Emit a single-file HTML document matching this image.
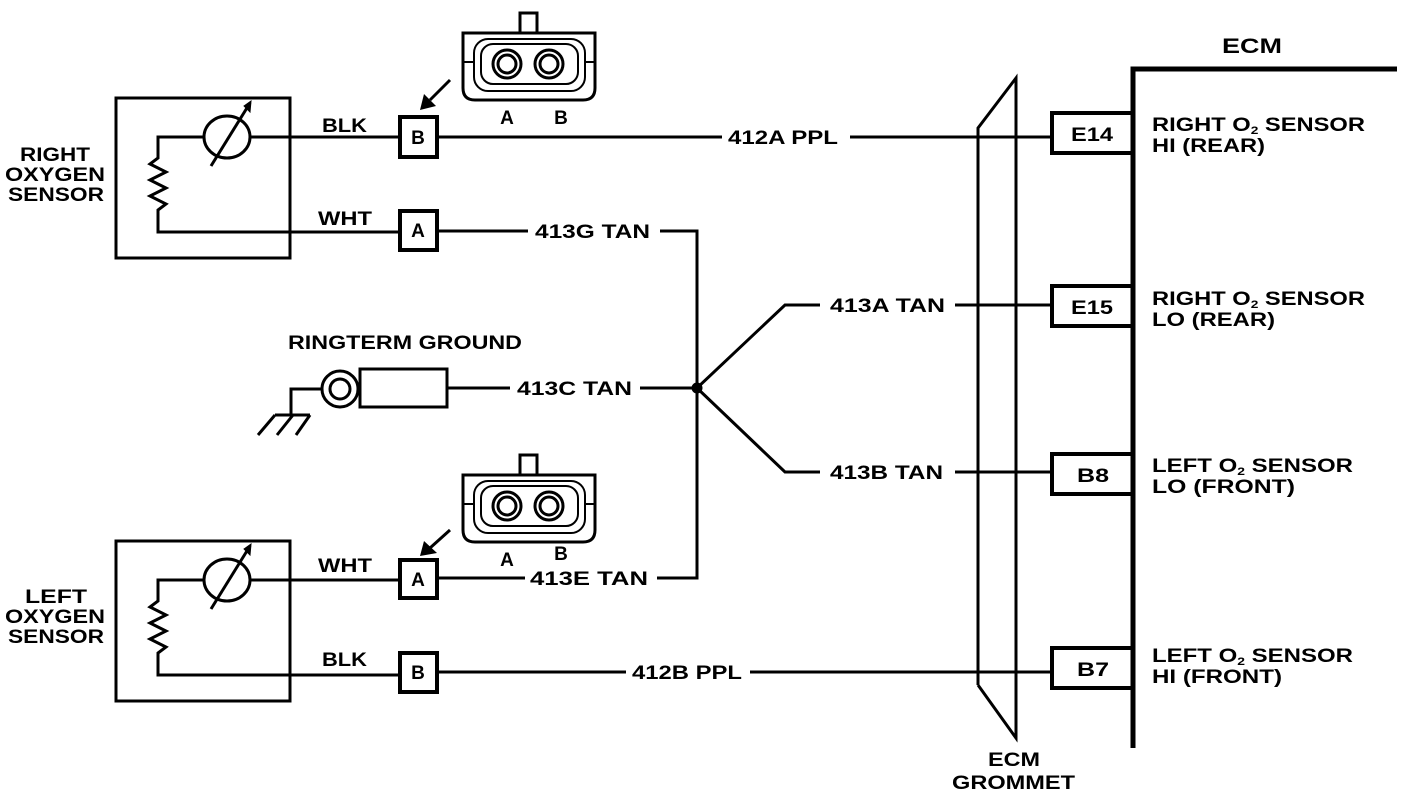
<!DOCTYPE html>
<html><head><meta charset="utf-8"><style>
html,body{margin:0;padding:0;background:#fff;}
svg{display:block;}
text{font-family:"Liberation Sans",Arial,sans-serif;font-weight:bold;font-size:19px;fill:#000;}
</style></head><body>
<svg width="1408" height="796" viewBox="0 0 1408 796" xmlns="http://www.w3.org/2000/svg">
<defs>
<g id="conn">
  <path d="M463,33 H595 V88 Q595,100 583,100 H475 Q463,100 463,88 Z" fill="none" stroke="#000" stroke-width="3"/>
  <rect x="474" y="39" width="111" height="52" rx="14" fill="none" stroke="#000" stroke-width="2"/>
  <rect x="481" y="44" width="97" height="40" rx="12" fill="none" stroke="#000" stroke-width="2"/>
  <rect x="520" y="13" width="17" height="20" fill="#fff" stroke="#000" stroke-width="3"/>
  <line x1="463" y1="62" x2="474" y2="62" stroke="#000" stroke-width="2"/>
  <line x1="585" y1="62" x2="595" y2="62" stroke="#000" stroke-width="2"/>
  <circle cx="507" cy="64" r="14" fill="none" stroke="#000" stroke-width="3"/>
  <circle cx="507" cy="64" r="9" fill="none" stroke="#000" stroke-width="3"/>
  <circle cx="549" cy="64" r="14" fill="none" stroke="#000" stroke-width="3"/>
  <circle cx="549" cy="64" r="9" fill="none" stroke="#000" stroke-width="3"/>
</g>
<g id="sensor">
  <rect x="116" y="98" width="174" height="160" fill="none" stroke="#000" stroke-width="3"/>
  <ellipse cx="227" cy="137" rx="23" ry="21" fill="none" stroke="#000" stroke-width="3"/>
  <line x1="211" y1="166" x2="250" y2="103" stroke="#000" stroke-width="3"/>
  <path d="M244,106 L251,101 L250,112 Z" fill="#000"/>
  <polyline points="204,137 158,137 158,158 150,164 166,172 150,180 166,188 150,196 166,204 158,210 158,232 400,232" fill="none" stroke="#000" stroke-width="3"/>
  <line x1="250" y1="137" x2="400" y2="137" stroke="#000" stroke-width="3"/>
</g>
</defs>

<g stroke="#000" fill="none">
<use href="#sensor"/>
<use href="#conn"/>
<rect x="400" y="117" width="37" height="40" stroke-width="4"/>
<rect x="400" y="211" width="37" height="39" stroke-width="4"/>
<line x1="450" y1="80" x2="430" y2="100" stroke-width="3"/>
<path d="M420,110 L424,94 L436,106 Z" fill="#000" stroke="none"/>
<g transform="translate(0,443)"><use href="#sensor"/></g>
<g transform="translate(0,442)"><use href="#conn"/></g>
<rect x="400" y="560" width="37" height="38" stroke-width="4"/>
<rect x="400" y="653" width="37" height="39" stroke-width="4"/>
<line x1="450" y1="530" x2="430" y2="548" stroke-width="3"/>
<path d="M420,556 L424,541 L437,553 Z" fill="#000" stroke="none"/>

<line x1="437" y1="137" x2="722" y2="137" stroke-width="3"/>
<line x1="850" y1="137" x2="1052" y2="137" stroke-width="3"/>
<line x1="437" y1="231" x2="528" y2="231" stroke-width="3"/>
<polyline points="660,231 697,231 697,578 657,578" stroke-width="3"/>
<line x1="437" y1="578" x2="525" y2="578" stroke-width="3"/>
<line x1="437" y1="672" x2="626" y2="672" stroke-width="3"/>
<line x1="750" y1="672" x2="1052" y2="672" stroke-width="3"/>
<line x1="447" y1="388" x2="510" y2="388" stroke-width="3"/>
<line x1="640" y1="388" x2="697" y2="388" stroke-width="3"/>
<polyline points="697,388 785,305 820,305" stroke-width="3"/>
<polyline points="697,388 785,472 820,472" stroke-width="3"/>
<line x1="955" y1="305" x2="1052" y2="305" stroke-width="3"/>
<line x1="955" y1="472" x2="1052" y2="472" stroke-width="3"/>
<circle cx="697" cy="388" r="5" fill="#000"/>

<circle cx="340" cy="389" r="18" stroke-width="3"/>
<circle cx="340" cy="389" r="10" stroke-width="3"/>
<rect x="360" y="369" width="87" height="38" stroke-width="3"/>
<polyline points="322,389 291,389 291,415" stroke-width="3"/>
<line x1="275" y1="415" x2="310" y2="415" stroke-width="3"/>
<line x1="275" y1="415" x2="258" y2="435" stroke-width="3"/>
<line x1="293" y1="415" x2="277" y2="435" stroke-width="3"/>
<line x1="310" y1="415" x2="296" y2="435" stroke-width="3"/>

<polyline points="978,685 978,128 1016,78 1016,738 978,685" stroke-width="3"/>

<polyline points="1133,748 1133,69 1397,69" stroke-width="5"/>
<rect x="1052" y="113" width="81" height="40" stroke-width="4"/>
<rect x="1052" y="286" width="81" height="40" stroke-width="4"/>
<rect x="1052" y="454" width="81" height="40" stroke-width="4"/>
<rect x="1052" y="648" width="81" height="40" stroke-width="4"/>
</g>

<g>
<text x="20" y="161" textLength="70" lengthAdjust="spacingAndGlyphs">RIGHT</text>
<text x="5" y="181" textLength="100" lengthAdjust="spacingAndGlyphs">OXYGEN</text>
<text x="8" y="201" textLength="96" lengthAdjust="spacingAndGlyphs">SENSOR</text>
<text x="25" y="603" textLength="62" lengthAdjust="spacingAndGlyphs">LEFT</text>
<text x="5" y="623" textLength="100" lengthAdjust="spacingAndGlyphs">OXYGEN</text>
<text x="8" y="643" textLength="96" lengthAdjust="spacingAndGlyphs">SENSOR</text>
<text x="322" y="132" textLength="45" lengthAdjust="spacingAndGlyphs">BLK</text>
<text x="318" y="225" textLength="54" lengthAdjust="spacingAndGlyphs">WHT</text>
<text x="318" y="572" textLength="54" lengthAdjust="spacingAndGlyphs">WHT</text>
<text x="322" y="666" textLength="45" lengthAdjust="spacingAndGlyphs">BLK</text>
<text x="418" y="144" text-anchor="middle">B</text>
<text x="418" y="237" text-anchor="middle">A</text>
<text x="418" y="586" text-anchor="middle">A</text>
<text x="418" y="679" text-anchor="middle">B</text>
<text x="507" y="124" text-anchor="middle">A</text>
<text x="561" y="124" text-anchor="middle">B</text>
<text x="507" y="566" text-anchor="middle">A</text>
<text x="561" y="560" text-anchor="middle">B</text>
<text x="728" y="144" textLength="110" lengthAdjust="spacingAndGlyphs">412A PPL</text>
<text x="535" y="238" textLength="115" lengthAdjust="spacingAndGlyphs">413G TAN</text>
<text x="288" y="349" textLength="234" lengthAdjust="spacingAndGlyphs">RINGTERM GROUND</text>
<text x="517" y="395" textLength="115" lengthAdjust="spacingAndGlyphs">413C TAN</text>
<text x="830" y="312" textLength="115" lengthAdjust="spacingAndGlyphs">413A TAN</text>
<text x="830" y="479" textLength="113" lengthAdjust="spacingAndGlyphs">413B TAN</text>
<text x="530" y="585" textLength="118" lengthAdjust="spacingAndGlyphs">413E TAN</text>
<text x="632" y="679" textLength="110" lengthAdjust="spacingAndGlyphs">412B PPL</text>
<text x="1071" y="141" textLength="42" lengthAdjust="spacingAndGlyphs">E14</text>
<text x="1071" y="314" textLength="42" lengthAdjust="spacingAndGlyphs">E15</text>
<text x="1077" y="482" textLength="32" lengthAdjust="spacingAndGlyphs">B8</text>
<text x="1077" y="676" textLength="32" lengthAdjust="spacingAndGlyphs">B7</text>
<text x="1222" y="53" textLength="60" lengthAdjust="spacingAndGlyphs" style="font-size:21px">ECM</text>
<text x="1152" y="131" textLength="213" lengthAdjust="spacingAndGlyphs">RIGHT O<tspan style="font-size:11px" dy="3">2</tspan><tspan dy="-3"> SENSOR</tspan></text>
<text x="1152" y="152" textLength="113" lengthAdjust="spacingAndGlyphs">HI (REAR)</text>
<text x="1152" y="305" textLength="213" lengthAdjust="spacingAndGlyphs">RIGHT O<tspan style="font-size:11px" dy="3">2</tspan><tspan dy="-3"> SENSOR</tspan></text>
<text x="1152" y="326" textLength="123" lengthAdjust="spacingAndGlyphs">LO (REAR)</text>
<text x="1152" y="472" textLength="201" lengthAdjust="spacingAndGlyphs">LEFT O<tspan style="font-size:11px" dy="3">2</tspan><tspan dy="-3"> SENSOR</tspan></text>
<text x="1152" y="493" textLength="143" lengthAdjust="spacingAndGlyphs">LO (FRONT)</text>
<text x="1152" y="662" textLength="201" lengthAdjust="spacingAndGlyphs">LEFT O<tspan style="font-size:11px" dy="3">2</tspan><tspan dy="-3"> SENSOR</tspan></text>
<text x="1152" y="683" textLength="130" lengthAdjust="spacingAndGlyphs">HI (FRONT)</text>
<text x="988" y="766" textLength="52" lengthAdjust="spacingAndGlyphs">ECM</text>
<text x="952" y="789" textLength="123" lengthAdjust="spacingAndGlyphs">GROMMET</text>
</g>
</svg>
</body></html>
